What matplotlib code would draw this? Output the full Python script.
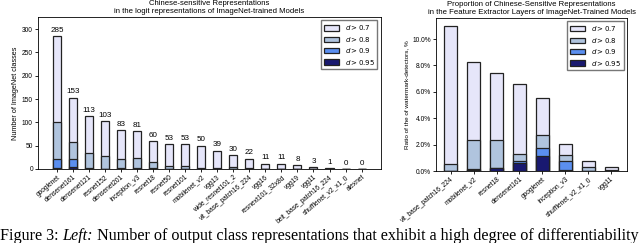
import numpy as np
import matplotlib
matplotlib.use("Agg")
import matplotlib.pyplot as plt
from matplotlib.ticker import FuncFormatter

plt.rcParams['font.family'] = ['Liberation Sans', 'DejaVu Sans']
plt.rcParams['mathtext.fontset'] = 'dejavusans'

# left panel: logit representations
logit_models = ['googlenet', 'densenet161', 'densenet121', 'resnet152', 'densenet201',
                'inception_v3', 'resnet18', 'resnet50', 'resnet101', 'mobilenet_v2',
                'vgg13', 'wide_resnet101_2', 'vit_base_patch16_224', 'vgg16',
                'resnext101_32x8d', 'vgg19', 'vgg11', 'beit_base_patch16_224',
                'shufflenet_v2_x1_0', 'alexnet']
logit_d07 = [285, 153, 113, 103, 83, 81, 60, 53, 53, 50, 39, 30, 22, 11, 11, 8, 3, 1, 0, 0]
logit_d08 = [101, 57, 35, 28, 21, 24, 14, 6, 6, 2, 1, 5, 1, 0, 0, 0, 0, 0, 0, 0]
logit_d09 = [21, 22, 1, 0, 1, 1, 1, 0, 0, 0, 0, 0, 0, 0, 0, 0, 0, 0, 0, 0]
logit_d095 = [1, 3, 0, 0, 0, 0, 0, 0, 0, 0, 0, 0, 0, 0, 0, 0, 0, 0, 0, 0]

# right panel: feature extractor layers, %
feat_models = ['vit_base_patch16_224', 'mobilenet_v2', 'resnet18', 'densenet161',
               'googlenet', 'inception_v3', 'shufflenet_v2_x1_0', 'vgg11']
feat_d07 = [11.0, 8.25, 7.45, 6.58, 5.52, 2.03, 0.76, 0.28]
feat_d08 = [0.53, 2.35, 2.35, 1.27, 2.73, 1.2, 0.33, 0.06]
feat_d09 = [0.02, 0.12, 0.22, 0.75, 1.72, 0.75, 0.04, 0.0]
feat_d095 = [0.0, 0.08, 0.2, 0.58, 1.14, 0.1, 0.03, 0.0]

labels = ['$d > 0.7$', '$d > 0.8$', '$d > 0.9$', '$d > 0.95$']
colors = ['#e6e6fa', '#b0c4de', '#5b8ff0', '#191970']

caption = ['Figure 3: ', 'Left:', ' Number of output class representations that exhibit a high degree of differentiability']


def draw_panel(ax, models, series, width):
    x = np.arange(len(models))
    for vals, col, lab in zip(series, colors, labels):
        ax.bar(x, vals, width, color=col, edgecolor='#222222', linewidth=0.9, label=lab)
    ax.set_xticks(x)
    ax.set_xticklabels(models, rotation=40, ha='right', rotation_mode='anchor', fontsize=4.6)
    ax.tick_params(axis='both', length=2, width=0.6, pad=1.5, labelsize=4.8)
    for s in ax.spines.values():
        s.set_linewidth(0.6)
    ax.legend(loc='upper right', fontsize=5, handlelength=2.2, handleheight=0.8,
              labelspacing=0.35, borderpad=0.4, framealpha=1, edgecolor='#777777',
              fancybox=False)
    return x


fig = plt.figure(figsize=(6.4, 2.43), dpi=100)

ax1 = fig.add_axes([0.059, 0.305, 0.536, 0.625])
x1 = draw_panel(ax1, logit_models, [logit_d07, logit_d08, logit_d09, logit_d095], 0.5)
for xi, v in zip(x1, logit_d07):
    ax1.text(xi, v + 5, str(v), ha='center', va='bottom', fontsize=5.8)
ax1.set_xlim(-1.2, len(logit_models) - 1 + 1.2)
ax1.set_ylim(0, 326)
ax1.set_ylabel('Number of ImageNet classes', fontsize=5.2, labelpad=2)
ax1.set_title('Chinese-sensitive Representations\nin the logit representations of ImageNet-trained Models',
              fontsize=5.6, pad=3, linespacing=1.2)

ax2 = fig.add_axes([0.681, 0.296, 0.299, 0.630])
x2 = draw_panel(ax2, feat_models, [feat_d07, feat_d08, feat_d09, feat_d095], 0.58)
ax2.set_xlim(-0.65, len(feat_models) - 1 + 0.7)
ax2.set_ylim(0, 11.6)
ax2.set_yticks([0, 2, 4, 6, 8, 10])
ax2.yaxis.set_major_formatter(FuncFormatter(lambda v, p: f'{v:.1f}%'))
ax2.set_ylabel('Ratio of the of watermark-detectors, %', fontsize=4.6, labelpad=2)
ax2.set_title('Proportion of Chinese-Sensitive Representations\nin the Feature Extractor Layers of ImageNet-Trained Models',
              fontsize=5.6, pad=3, linespacing=1.2)

# caption below the panels, written piece by piece for the italic word
fig.canvas.draw()
renderer = fig.canvas.get_renderer()
xpos = 0.0
for i, piece in enumerate(caption):
    t = fig.text(xpos, 0.014, piece, fontsize=11.6, family=['Liberation Serif', 'DejaVu Serif'],
                 style='italic' if i == 1 else 'normal', va='baseline', ha='left')
    bb = t.get_window_extent(renderer)
    xpos += bb.width / fig.bbox.width

fig.savefig('out.png', dpi=100)
